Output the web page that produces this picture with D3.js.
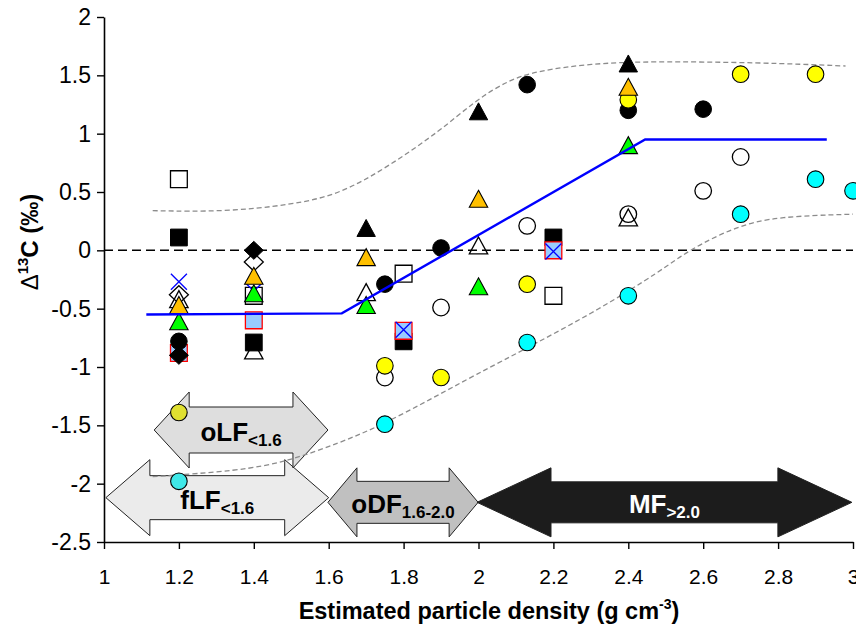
<!DOCTYPE html>
<html><head><meta charset="utf-8">
<script src="https://cdn.jsdelivr.net/npm/d3@7"></script>
<style>
html,body{margin:0;padding:0;background:#fff;}
svg{display:block;font-family:"Liberation Sans",Arial,sans-serif;}
</style></head>
<body>
<svg id="chart" width="856" height="629"></svg>
<script>
// ---------------- DATA ----------------
const xTickValues = [1, 1.2, 1.4, 1.6, 1.8, 2, 2.2, 2.4, 2.6, 2.8, 3];
const xTickLabels = ["1","1.2","1.4","1.6","1.8","2","2.2","2.4","2.6","2.8","3"];
const yTickValues = [2, 1.5, 1, 0.5, 0, -0.5, -1, -1.5, -2, -2.5];
const yTickLabels = ["2","1.5","1","0.5","0","-0.5","-1","-1.5","-2","-2.5"];

// circles
const blackCircleX = [1.2, 1.75, 1.9, 2.13, 2.4, 2.6];
const blackCircleY = [-0.78, -0.29, 0.02, 1.42, 1.2, 1.21];
const openCircleX = [1.75, 1.9, 2.13, 2.4, 2.6, 2.7];
const openCircleY = [-1.09, -0.49, 0.21, 0.31, 0.51, 0.8];
const yellowCircleX = [1.75, 1.9, 2.13, 2.4, 2.7, 2.9];
const yellowCircleY = [-0.99, -1.09, -0.29, 1.29, 1.51, 1.51];
const cyanCircleX = [1.75, 2.13, 2.4, 2.7, 2.9, 3.0];
const cyanCircleY = [-1.49, -0.79, -0.39, 0.31, 0.61, 0.51];
const oliveCircleX = [1.2];
const oliveCircleY = [-1.39];
const tealCircleX = [1.2];
const tealCircleY = [-1.98];
// triangles
const blackTriX = [1.7, 2.0, 2.4];
const blackTriY = [0.19, 1.19, 1.6];
const orangeTriX = [1.2, 1.4, 1.7, 2.0, 2.4];
const orangeTriY = [-0.47, -0.22, -0.06, 0.44, 1.4];
const greenTriX = [1.2, 1.4, 1.7, 2.0, 2.4];
const greenTriY = [-0.61, -0.37, -0.47, -0.31, 0.9];
const openTriX = [1.2, 1.4, 1.7, 2.0, 2.4];
const openTriY = [-0.42, -0.86, -0.36, 0.04, 0.28];
// squares
const blackSqX = [1.2, 1.4, 1.8, 2.2];
const blackSqY = [0.11, -0.79, -0.78, 0.11];
const openSqX = [1.2, 1.4, 1.8, 2.2];
const openSqY = [0.61, -0.39, -0.2, -0.39];
const blueSqX = [1.2, 1.4, 1.8, 2.2];
const blueSqY = [-0.88, -0.6, -0.69, 0.0];
// crosses
const blueXX = [1.2, 1.4, 1.8, 2.2];
const blueXY = [-0.27, -0.35, -0.68, -0.01];
// diamonds
const blackDiaX = [1.2, 1.4];
const blackDiaY = [-0.9, 0.0];
const openDiaX = [1.2, 1.4];
const openDiaY = [-0.38, -0.1];

// fitted line
const fitX = [1.113, 1.635, 2.445, 2.93];
const fitY = [-0.55, -0.54, 0.95, 0.95];
// confidence band curves
const upperX = [1.13, 1.32, 1.5, 1.63, 1.76, 1.9, 1.99, 2.08, 2.16, 2.3, 2.45, 2.75, 2.98];
const upperY = [0.34, 0.33, 0.39, 0.48, 0.72, 1.03, 1.28, 1.46, 1.54, 1.6, 1.62, 1.61, 1.58];
const lowerX = [1.13, 1.36, 1.49, 1.63, 1.74, 1.87, 1.99, 2.14, 2.32, 2.49, 2.56, 2.69, 2.8, 3.0];
const lowerY = [-1.94, -1.89, -1.81, -1.65, -1.5, -1.28, -1.07, -0.82, -0.51, -0.17, 0.0, 0.21, 0.29, 0.31];

// density fraction arrows
const fracName = ["fLF", "oLF", "oDF", "MF"];
const fracSub = ["<1.6", "<1.6", "1.6-2.0", ">2.0"];
const fracStart = [1.005, 1.134, 1.598, 1.996];
const fracEnd = [1.6, 1.598, 1.999, 2.997];
const fracY = [-2.12, -1.54, -2.16, -2.16];

// ---------------- CHART ----------------
const svg = d3.select("#chart");
const xs = d3.scaleLinear().domain([1, 3]).range([104, 853]);
const ys = d3.scaleLinear().domain([-2.5, 2]).range([542, 17]);

// arrows
const arrowStyle = [
  {fill:"#ebebeb", text:"#000", shaft:22, head:38, len:44},
  {fill:"#dedede", text:"#000", shaft:23, head:38, len:35},
  {fill:"#c0c0c0", text:"#000", shaft:21, head:34.5, len:29},
  {fill:"#1c1c1c", text:"#fff", shaft:20.5, head:34.5, len:74}
];
const gArrows = svg.append("g");
fracName.forEach((n, i) => {
  const s = arrowStyle[i];
  const x0 = xs(fracStart[i]), x1 = xs(fracEnd[i]), yc = ys(fracY[i]);
  const pts = [
    [x0, yc], [x0 + s.len, yc - s.head], [x0 + s.len, yc - s.shaft],
    [x1 - s.len, yc - s.shaft], [x1 - s.len, yc - s.head], [x1, yc],
    [x1 - s.len, yc + s.head], [x1 - s.len, yc + s.shaft],
    [x0 + s.len, yc + s.shaft], [x0 + s.len, yc + s.head]
  ];
  gArrows.append("path")
    .attr("d", "M" + pts.map(p => p.join(",")).join("L") + "Z")
    .attr("fill", s.fill).attr("stroke", "#222").attr("stroke-width", 1);
  const t = gArrows.append("text")
    .attr("x", (x0 + x1) / 2).attr("y", yc + 11)
    .attr("text-anchor", "middle").attr("font-weight", "bold")
    .attr("fill", s.text);
  t.append("tspan").attr("font-size", 26).text(n);
  t.append("tspan").attr("font-size", 17).attr("dy", 5).text(fracSub[i]);
});

// zero dashed line
svg.append("line")
  .attr("x1", xs(1)).attr("x2", xs(3)).attr("y1", ys(0)).attr("y2", ys(0))
  .attr("stroke", "#000").attr("stroke-width", 1.5).attr("stroke-dasharray", "9,5");

// band curves
const lineGen = d3.line().x(d => xs(d[0])).y(d => ys(d[1])).curve(d3.curveBasis);
[[upperX, upperY], [lowerX, lowerY]].forEach(([X, Y]) => {
  svg.append("path").datum(X.map((x, i) => [x, Y[i]]))
    .attr("d", lineGen).attr("fill", "none")
    .attr("stroke", "#8c8c8c").attr("stroke-width", 1.3).attr("stroke-dasharray", "5,3");
});

// axes
const xAxis = d3.axisBottom(xs).tickValues(xTickValues)
  .tickFormat((d, i) => xTickLabels[i]).tickSize(7).tickSizeOuter(0).tickPadding(20);
const gx = svg.append("g").attr("transform", `translate(0,${ys(-2.5)})`).call(xAxis);
const yAxis = d3.axisLeft(ys).tickValues(yTickValues)
  .tickFormat((d, i) => yTickLabels[i]).tickSize(7).tickSizeOuter(0).tickPadding(6);
const gy = svg.append("g").attr("transform", `translate(${xs(1)},0)`).call(yAxis);
[gx, gy].forEach(g => {
  g.select(".domain").attr("stroke", "#000").attr("stroke-width", 1.6);
  g.selectAll(".tick line").attr("stroke", "#000").attr("stroke-width", 1.4);
  g.selectAll(".tick text").attr("fill", "#000").attr("font-family", "Liberation Sans, Arial, sans-serif");
});
gx.selectAll(".tick text").attr("font-size", 21);
gy.selectAll(".tick text").attr("font-size", 23);

// markers
const gm = svg.append("g");
const shapes = {
  circle: "M8.3,0A8.3,8.3 0 1,1 -8.3,0A8.3,8.3 0 1,1 8.3,0Z",
  tri: "M0,-8.7L9.2,8.3L-9.2,8.3Z",
  square: "M-8.4,-8.4H8.4V8.4H-8.4Z",
  diamond: "M0,-9L9.5,0L0,9L-9.5,0Z",
  cross: "M-8,-8L8,8M8,-8L-8,8"
};
function plot(X, Y, shape, fill, stroke, sw) {
  gm.selectAll(null).data(X.map((x, i) => [x, Y[i]])).enter().append("path")
    .attr("d", shapes[shape])
    .attr("transform", d => `translate(${xs(d[0])},${ys(d[1])})`)
    .attr("fill", fill).attr("stroke", stroke).attr("stroke-width", sw);
}
plot(openSqX, openSqY, "square", "none", "#000", 1.3);
plot(blackSqX, blackSqY, "square", "#000", "#000", 1);
plot(blueSqX, blueSqY, "square", "#99ccff", "#ff0000", 1.3);
plot(blueXX, blueXY, "cross", "none", "#0000ff", 1.3);
plot(openDiaX, openDiaY, "diamond", "none", "#000", 1.3);
plot(openCircleX, openCircleY, "circle", "none", "#000", 1.3);
plot(cyanCircleX, cyanCircleY, "circle", "#00ffff", "#000", 1.1);
plot(tealCircleX, tealCircleY, "circle", "#40e8e8", "#000", 1.1);
plot(blackCircleX, blackCircleY, "circle", "#000", "#000", 1);
plot(yellowCircleX, yellowCircleY, "circle", "#ffff00", "#000", 1.1);
plot(oliveCircleX, oliveCircleY, "circle", "#e0e030", "#000", 1.1);
plot(openTriX, openTriY, "tri", "none", "#000", 1.3);
plot(greenTriX, greenTriY, "tri", "#00ff00", "#000", 1.1);
plot(orangeTriX, orangeTriY, "tri", "#ffc000", "#000", 1.1);
plot(blackTriX, blackTriY, "tri", "#000", "#000", 1);
plot(blackDiaX, blackDiaY, "diamond", "#000", "#000", 1);

// fitted line
svg.append("path").datum(fitX.map((x, i) => [x, fitY[i]]))
  .attr("d", d3.line().x(d => xs(d[0])).y(d => ys(d[1])))
  .attr("fill", "none").attr("stroke", "#0000ff").attr("stroke-width", 2.4);

// axis titles
const xt = svg.append("text").attr("x", 489).attr("y", 619)
  .attr("text-anchor", "middle").attr("font-weight", "bold").attr("font-size", 23.5);
xt.append("tspan").text("Estimated particle density (g cm");
xt.append("tspan").attr("font-size", 14).attr("dy", -10).text("-3");
xt.append("tspan").attr("dy", 10).text(")");

const yt = svg.append("text").attr("transform", "translate(38,242) rotate(-90)")
  .attr("text-anchor", "middle").attr("font-size", 24);
yt.append("tspan").attr("font-weight", "normal").text("Δ");
yt.append("tspan").attr("font-weight", "bold").attr("font-size", 15).attr("dy", -10).text("13");
yt.append("tspan").attr("font-weight", "bold").attr("dy", 10).text("C (‰)");
</script>
</body></html>
